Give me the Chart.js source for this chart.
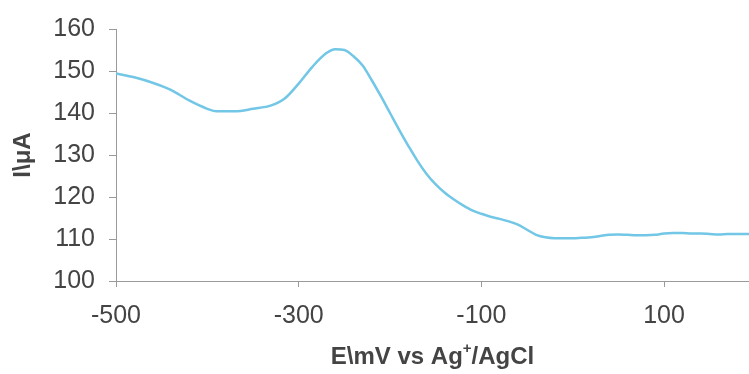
<!DOCTYPE html>
<html>
<head>
<meta charset="utf-8">
<script src="https://cdn.jsdelivr.net/npm/chart.js@4"></script>
<style>
  html, body { margin: 0; padding: 0; background: #ffffff; }
  #wrap { width: 749px; height: 374px; }
</style>
</head>
<body>
<div id="wrap"><canvas id="c" width="749" height="374"></canvas></div>
<script>
// Potential (mV vs Ag+/AgCl)
const potentials = [-500, -480, -460, -440, -420, -400, -390, -370, -350, -330, -315, -300, -285, -270, -260, -250, -240, -230, -220, -210, -200, -190, -180, -170, -160, -150, -140, -130, -120, -110, -100, -90, -80, -70, -60, -50, -40, -30, -20, -10, 0, 10, 20, 30, 40, 50, 60, 70, 80, 90, 100, 110, 120, 130, 140, 150, 160, 170, 180, 193];
// Current (µA)
const currents = [149.4, 148.5, 147.2, 145.5, 143.0, 141.0, 140.4, 140.4, 141.0, 141.8, 143.5, 147.0, 151.0, 154.2, 155.2, 155.0, 153.5, 151.3, 147.8, 144.0, 140.0, 136.0, 132.2, 128.6, 125.5, 123.0, 121.0, 119.4, 118.0, 116.8, 116.0, 115.3, 114.8, 114.2, 113.4, 112.2, 111.0, 110.4, 110.2, 110.2, 110.2, 110.3, 110.4, 110.7, 111.0, 111.1, 111.0, 110.9, 110.9, 111.0, 111.3, 111.4, 111.4, 111.3, 111.3, 111.2, 111.1, 111.2, 111.2, 111.2];
const xTickValues = [-500, -300, -100, 100];
const yTickValues = [100, 110, 120, 130, 140, 150, 160];
const xTitleMain = "E\\mV vs Ag";
const xTitleSup = "+";
const xTitleEnd = "/AgCl";
const yTitle = "I\\\u03bcA";

const points = potentials.map((x, i) => ({ x: x, y: currents[i] }));
const textColor = '#444444';
const axisColor = '#9a9a9a';

const titlePlugin = {
  id: 'axisTitles',
  afterDraw(chart) {
    const ctx = chart.ctx;
    const area = chart.chartArea;
    ctx.save();
    ctx.fillStyle = textColor;
    // x title with superscript
    const bold = 'bold 24px "Liberation Sans", Arial, sans-serif';
    const supFont = 'bold 15px "Liberation Sans", Arial, sans-serif';
    ctx.font = bold;
    const w1 = ctx.measureText(xTitleMain).width;
    const w3 = ctx.measureText(xTitleEnd).width;
    ctx.font = supFont;
    const w2 = ctx.measureText(xTitleSup).width;
    const total = w1 + w2 + w3;
    const cx = (area.left + area.right) / 2;
    const baseY = 364;
    let x = cx - total / 2;
    ctx.textBaseline = 'alphabetic';
    ctx.textAlign = 'left';
    ctx.font = bold;
    ctx.fillText(xTitleMain, x, baseY);
    x += w1;
    ctx.font = supFont;
    ctx.fillText(xTitleSup, x, baseY - 11);
    x += w2;
    ctx.font = bold;
    ctx.fillText(xTitleEnd, x, baseY);
    // y title rotated
    ctx.translate(23, (area.top + area.bottom) / 2);
    ctx.rotate(-Math.PI / 2);
    ctx.textAlign = 'center';
    ctx.textBaseline = 'middle';
    ctx.font = bold;
    ctx.fillText(yTitle, 0, 0);
    ctx.restore();
  }
};

new Chart(document.getElementById('c'), {
  type: 'line',
  data: {
    datasets: [{
      data: points,
      borderColor: '#72c6e6',
      borderWidth: 2.5,
      pointRadius: 0,
      fill: false,
      cubicInterpolationMode: 'monotone'
    }]
  },
  options: {
    responsive: false,
    animation: false,
    devicePixelRatio: 1,
    layout: { padding: { top: 20, right: 0, left: 0, bottom: 0 } },
    plugins: { legend: { display: false }, tooltip: { enabled: false } },
    scales: {
      x: {
        type: 'linear',
        min: -500,
        max: 193,
        afterBuildTicks: (s) => { s.ticks = xTickValues.map(v => ({ value: v })); },
        afterFit: (s) => { s.height = 93; },
        grid: { display: true, drawOnChartArea: false, drawTicks: true, tickLength: 6, color: axisColor },
        border: { color: axisColor, width: 1 },
        ticks: {
          color: textColor,
          padding: 14,
          maxRotation: 0,
          font: { family: '"Liberation Sans", Arial, sans-serif', size: 25 }
        }
      },
      y: {
        type: 'linear',
        min: 100,
        max: 160,
        afterBuildTicks: (s) => { s.ticks = yTickValues.map(v => ({ value: v })); },
        afterFit: (s) => { s.width = 116; },
        grid: { display: true, drawOnChartArea: false, drawTicks: true, tickLength: 7, color: axisColor },
        border: { color: axisColor, width: 1 },
        ticks: {
          color: textColor,
          padding: 14,
          font: { family: '"Liberation Sans", Arial, sans-serif', size: 25 }
        }
      }
    }
  },
  plugins: [titlePlugin]
});
</script>
</body>
</html>
